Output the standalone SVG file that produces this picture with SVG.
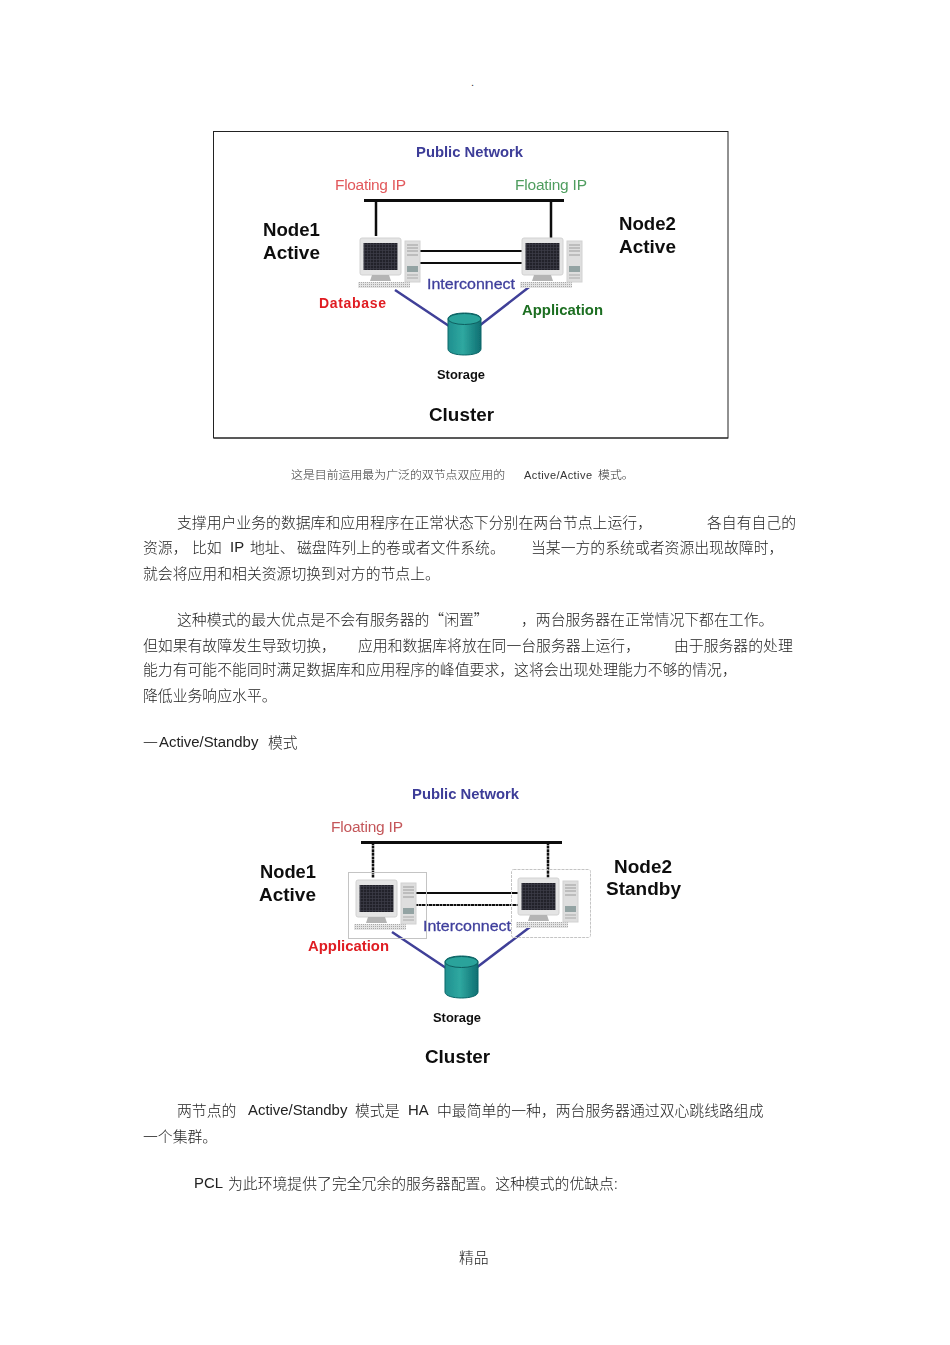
<svg xmlns="http://www.w3.org/2000/svg" xmlns:xlink="http://www.w3.org/1999/xlink" width="950" height="1345" viewBox="0 0 950 1345">
<style>
text{font-family:"Liberation Sans","Noto Sans CJK SC",sans-serif;fill:#222}
.c{font-size:14.85px;font-family:"Noto Sans CJK SC","Liberation Sans",sans-serif;font-weight:300;baseline-shift:-1px}
.l{font-size:14.9px}
.s{font-size:11px;fill:#333}
.sc{font-size:11.9px;fill:#333;font-family:"Noto Sans CJK SC","Liberation Sans",sans-serif;font-weight:300}
.n{font-size:18px;font-weight:bold;fill:#111}
.pub{font-size:14.5px;font-weight:bold;fill:#3c3c98}
.ip{font-size:15.5px}
.int{font-size:15.5px;fill:#3f3f9c;stroke:#3f3f9c;stroke-width:.3}
.db{font-size:14px;font-weight:bold}
.st{font-size:12.5px;font-weight:bold;fill:#111}
.bus{stroke:#111;stroke-width:3;fill:none}
.ln{stroke:#111;stroke-width:2;fill:none}
.san{stroke:#3f3f98;stroke-width:2.5;fill:none}
.box{fill:none;stroke:#c4c4c4;stroke-width:1}
</style>
<defs>
<filter id="b" x="-5%" y="-5%" width="110%" height="110%"><feGaussianBlur stdDeviation="0.6"/></filter>
<filter id="t" x="-2%" y="-2%" width="104%" height="104%"><feGaussianBlur stdDeviation="0.25"/></filter>
<linearGradient id="cy" x1="0" x2="1" y1="0" y2="0"><stop offset="0" stop-color="#1f8f8f"/><stop offset=".45" stop-color="#2fa8a0"/><stop offset="1" stop-color="#0f6f72"/></linearGradient>
<pattern id="scr" width="3" height="3" patternUnits="userSpaceOnUse"><rect width="3" height="3" fill="#20222c"/><path d="M0 .5H3M.5 0V3" stroke="#3c3e48" stroke-width=".7"/></pattern>
<pattern id="kb" width="2" height="2" patternUnits="userSpaceOnUse"><rect width="2" height="2" fill="#e4e4e4"/><rect width="1" height="1" fill="#a8a8a8"/></pattern>
<g id="pc">
<rect x="-1" y="0" width="41" height="37" rx="2" fill="#e4e4e4" stroke="#d2d2d2"/>
<rect x="2.500" y="5" width="34" height="27" fill="url(#scr)"/>
<path d="M11 37h17l2 6H9z" fill="#b4b4b4"/>
<rect x="-3" y="44" width="52" height="6" fill="url(#kb)"/>
<rect x="44" y="3" width="15" height="41" fill="#dedede" stroke="#d2d2d2"/>
<path d="M46 7h11M46 10h11M46 13h11M46 17h11" stroke="#9c9c9c" fill="none"/>
<rect x="46" y="28" width="11" height="6" fill="#93a3a3"/>
<path d="M46 37h11M46 40h11" stroke="#aaa" fill="none"/>
</g>
<g id="cyl">
<path d="M0 6C0-2 33-2 33 6V36C33 44 0 44 0 36Z" fill="url(#cy)" stroke="#0d6668"/>
<ellipse cx="16.500" cy="6" rx="16.500" ry="5.500" fill="#2aa39b" stroke="#0d5f60"/>
</g>
</defs>

<text id="top-dot" x="471" y="86" class="s">.</text>

<g id="cluster-active-active" filter="url(#b)">
<rect id="frame" x="213.500" y="131.500" width="514.500" height="306.500" fill="#fff" stroke="#222" stroke-width="1"/>
<path d="M214 438H728" stroke="#222" stroke-width="1"/>
<g id="connectors-1">
<path class="bus" d="M364 200.500H564"/>
<path class="ln" d="M376 200V236M551 200V238" style="stroke-width:2.500"/>
<path class="ln" d="M418 251H525M418 263H525"/>
<path class="san" d="M395 290L449 326M533 284L479 326"/>
</g>
<g id="node1"><use xlink:href="#pc" href="#pc" x="361" y="238"/></g>
<g id="node2"><use xlink:href="#pc" href="#pc" x="523" y="238"/></g>
<g id="storage"><use xlink:href="#cyl" href="#cyl" x="448" y="313"/></g>
<text class="pub" x="416" y="157" textLength="107" lengthAdjust="spacingAndGlyphs">Public Network</text>
<text class="ip" x="335" y="190" textLength="71" style="fill:#e2595c">Floating IP</text>
<text class="ip" x="515" y="190" textLength="72" style="fill:#4f9d5f">Floating IP</text>
<text class="n" x="263" y="236" textLength="57" lengthAdjust="spacingAndGlyphs">Node1</text>
<text class="n" x="263" y="259" textLength="57" lengthAdjust="spacingAndGlyphs">Active</text>
<text class="n" x="619" y="230" textLength="57" lengthAdjust="spacingAndGlyphs">Node2</text>
<text class="n" x="619" y="253" textLength="57" lengthAdjust="spacingAndGlyphs">Active</text>
<text class="int" x="427" y="289" textLength="88" lengthAdjust="spacingAndGlyphs">Interconnect</text>
<text class="db" x="319" y="308" textLength="67" style="fill:#e01c22">Database</text>
<text class="db" x="522" y="315" textLength="81" lengthAdjust="spacingAndGlyphs" style="fill:#1c6e20">Application</text>
<text class="st" x="437" y="379" textLength="48" lengthAdjust="spacingAndGlyphs">Storage</text>
<text class="n" x="429" y="421" textLength="65" lengthAdjust="spacingAndGlyphs">Cluster</text>
</g>

<g id="caption" filter="url(#t)">
<text class="sc" x="291" y="479">这是目前运用最为广泛的双节点双应用的</text>
<text class="s" x="524" y="479" textLength="68">Active/Active</text>
<text class="sc" x="598" y="479">模式。</text>
</g>

<g id="body-1" filter="url(#t)">
<text class="c" x="177" y="527">支撑用户业务的数据库和应用程序在正常状态下分别在两台节点上运行，</text>
<text class="c" x="707" y="527">各自有自己的</text>
<text class="c" x="143" y="552">资源，</text>
<text class="c" x="192" y="552">比如</text>
<text class="l" x="230" y="552">IP</text>
<text class="c" x="250" y="552">地址、</text>
<text class="c" x="297" y="552">磁盘阵列上的卷或者文件系统。</text>
<text class="c" x="531" y="552">当某一方的系统或者资源出现故障时，</text>
<text class="c" x="143" y="578">就会将应用和相关资源切换到对方的节点上。</text>
<text class="c" x="177" y="624">这种模式的最大优点是不会有服务器的“闲置”</text>
<text class="c" x="521" y="624">，两台服务器在正常情况下都在工作。</text>
<text class="c" x="143" y="650">但如果有故障发生导致切换，</text>
<text class="c" x="358" y="650">应用和数据库将放在同一台服务器上运行，</text>
<text class="c" x="674" y="650">由于服务器的处理</text>
<text class="c" x="143" y="674">能力有可能不能同时满足数据库和应用程序的峰值要求，这将会出现处理能力不够的情况，</text>
<text class="c" x="143" y="700">降低业务响应水平。</text>
<text class="c" x="143" y="747">一</text>
<text class="l" x="159" y="747">Active/Standby</text>
<text class="c" x="268" y="747">模式</text>
</g>

<g id="cluster-active-standby" filter="url(#b)">
<g id="connectors-2">
<path class="bus" d="M361 842.500H562"/>
<path class="ln" d="M373 842V878M548 842V880" style="stroke-width:2.500;stroke-dasharray:3 .6"/>
<path class="ln" d="M415 893H519"/>
<path class="ln" d="M415 905H519" style="stroke-dasharray:3 .5"/>
<path class="san" d="M392 932L446 968M530 927L476 968"/>
</g>
<g id="node1b"><rect class="box" x="348.500" y="872.500" width="78" height="66"/><use xlink:href="#pc" href="#pc" x="357" y="880"/></g>
<g id="node2b"><rect class="box" x="511.500" y="869.500" width="79" height="68" rx="2" style="stroke-dasharray:3 1"/><use xlink:href="#pc" href="#pc" x="519" y="878"/></g>
<g id="storage2"><use xlink:href="#cyl" href="#cyl" x="445" y="956"/></g>
<text class="pub" x="412" y="799" textLength="107" lengthAdjust="spacingAndGlyphs">Public Network</text>
<text class="ip" x="331" y="832" textLength="72" style="fill:#c4575a">Floating IP</text>
<text class="n" x="260" y="878" textLength="56" lengthAdjust="spacingAndGlyphs">Node1</text>
<text class="n" x="259" y="901" textLength="57" lengthAdjust="spacingAndGlyphs">Active</text>
<text class="n" x="614" y="873" textLength="58" lengthAdjust="spacingAndGlyphs">Node2</text>
<text class="n" x="606" y="895" textLength="75" lengthAdjust="spacingAndGlyphs">Standby</text>
<text class="int" x="423" y="931" textLength="88" lengthAdjust="spacingAndGlyphs">Interconnect</text>
<text class="db" x="308" y="951" textLength="81" lengthAdjust="spacingAndGlyphs" style="fill:#df1f24">Application</text>
<text class="st" x="433" y="1022" textLength="48" lengthAdjust="spacingAndGlyphs">Storage</text>
<text class="n" x="425" y="1063" textLength="65" lengthAdjust="spacingAndGlyphs">Cluster</text>
</g>

<g id="body-2" filter="url(#t)">
<text class="c" x="177" y="1115">两节点的</text>
<text class="l" x="248" y="1115">Active/Standby</text>
<text class="c" x="355" y="1115">模式是</text>
<text class="l" x="408" y="1115">HA</text>
<text class="c" x="437" y="1115">中最简单的一种，两台服务器通过双心跳线路组成</text>
<text class="c" x="143" y="1141">一个集群。</text>
<text class="l" x="194" y="1188">PCL</text>
<text class="c" x="228" y="1188">为此环境提供了完全冗余的服务器配置。这种模式的优缺点:</text>
<text class="c" x="459" y="1262">精品</text>
</g>
</svg>
